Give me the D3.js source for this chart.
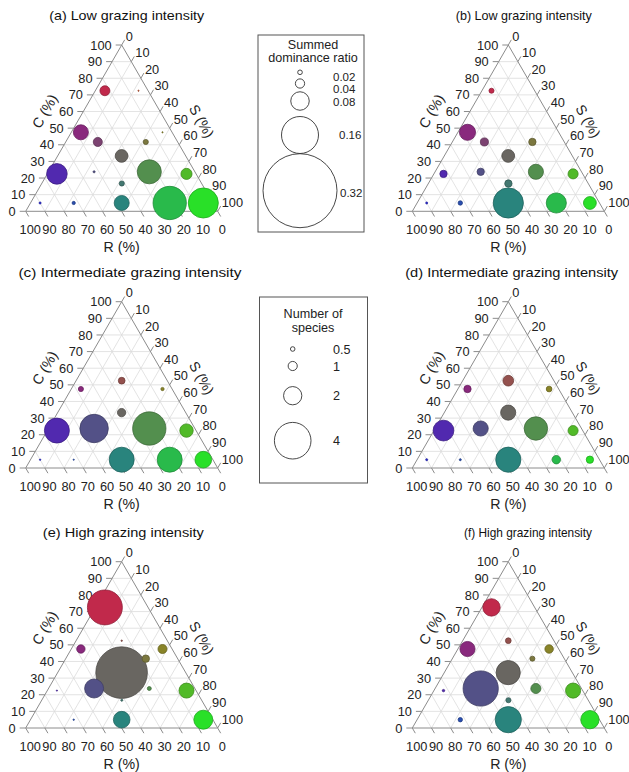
<!DOCTYPE html>
<html><head><meta charset="utf-8">
<script src="https://cdn.jsdelivr.net/npm/d3@7"></script>
<style>
body{margin:0;background:#fff;}
svg{display:block;font-family:"Liberation Sans",Arial,sans-serif;}
</style></head>
<body><svg id="chart" width="629" height="772"></svg>
<script>
// ---- CSR class positions (C, S, R in %) ----
const posNames = ["C","C/CR","C/CS","C/CSR","CR","CS","CR/CSR","CS/CSR","CSR","R/CR","R/CSR","S/CSR","S/CS","SR/CSR","R","R/SR","SR","S/SR","S"];
const posC = [90, 72.5, 72.5, 52.5, 47.5, 47.5, 41.7, 41.7, 33.3, 22.5, 23.75, 23.75, 22.5, 16.7, 5, 5, 5, 5, 5];
const posS = [5, 5, 22.5, 23.75, 5, 47.5, 16.7, 41.7, 33.3, 5, 23.75, 52.5, 72.5, 41.7, 5, 22.5, 47.5, 72.5, 90];
const posR = [5, 22.5, 5, 23.75, 47.5, 5, 41.7, 16.7, 33.3, 72.5, 52.5, 23.75, 5, 41.7, 90, 72.5, 47.5, 22.5, 5];

// ---- values per panel (left column: summed dominance ratio; right column: number of species) ----
const valuesA = [0, 0.043, 0.004, 0, 0.065, 0.005, 0.039, 0.022, 0.055, 0.089, 0.009, 0.104, 0.048, 0.022, 0.009, 0.014, 0.065, 0.144, 0.13];
const valuesB = [0, 0.55, 0, 0, 1.76, 0, 0.88, 0.8, 1.4, 0.8, 0.8, 1.65, 1.1, 0.8, 0.22, 0.48, 3.3, 2.2, 1.4];
const valuesC = [0, 0, 0, 0.029, 0.022, 0.014, 0, 0, 0.036, 0.108, 0.123, 0.144, 0.058, 0, 0.006, 0.004, 0.108, 0.108, 0.072];
const valuesD = [0, 0, 0, 1.17, 0.8, 0.62, 0, 0, 1.65, 2.27, 1.65, 2.56, 1.1, 0, 0.22, 0.22, 2.75, 0.92, 0.8];
const valuesE = [0, 0.151, 0, 0.006, 0.036, 0.039, 0, 0.032, 0.223, 0.004, 0.082, 0.017, 0.065, 0.009, 0, 0.006, 0.072, 0, 0.082];
const valuesF = [0, 1.9, 0, 0.62, 1.65, 0.92, 0, 0.55, 2.64, 0.26, 3.85, 1.1, 1.65, 0.55, 0, 0.48, 2.86, 0, 2.0];

const panelTitles = ["(a) Low grazing intensity","(b) Low grazing intensity","(c) Intermediate grazing intensity","(d) Intermediate grazing intensity","(e) High grazing intensity","(f) High grazing intensity"];
const ticks = [0,10,20,30,40,50,60,70,80,90,100];
const legend1Values = [0.02, 0.04, 0.08, 0.16, 0.32];
const legend2Values = [0.5, 1, 2, 4];

// ---- layout ----
const svg = d3.select("#chart");
const W = 192, H = 166.3;
const rDom = d3.scaleLinear().domain([0, 0.32]).range([0, 37]);
const rSpp = d3.scaleLinear().domain([0, 4]).range([0, 18.3]);
const panels = [
  {apexX:121.7, apexY:45,    vals:valuesA, r:rDom, title:panelTitles[0], tx:126.7, tw:155},
  {apexX:508.3, apexY:45,    vals:valuesB, r:rSpp, title:panelTitles[1], tx:523.8, tw:136},
  {apexX:121.7, apexY:301.7, vals:valuesC, r:rDom, title:panelTitles[2], tx:130,   tw:223},
  {apexX:508.3, apexY:301.7, vals:valuesD, r:rSpp, title:panelTitles[3], tx:511.7, tw:213},
  {apexX:121.7, apexY:561.7, vals:valuesE, r:rDom, title:panelTitles[4], tx:123.3, tw:161},
  {apexX:508.3, apexY:561.7, vals:valuesF, r:rSpp, title:panelTitles[5], tx:528,   tw:128}
];

function colorOf(i){
  const c = posC[i]/100, s = posS[i]/100, r = posR[i]/100;
  return d3.rgb(30 + 225*c, 30 + 215*s, 30 + 200*r);
}

panels.forEach(p => {
  const g = svg.append("g");
  const x0 = p.apexX - W/2, yb = p.apexY + H;
  const xs = d3.scaleLinear().domain([0,100]).range([x0, x0 + W]);   // along S + C/2
  const ys = d3.scaleLinear().domain([0,100]).range([yb, p.apexY]);  // C
  const P = (c, s) => [xs(s + c/2), ys(c)];

  // grid
  const grid = g.append("g").attr("stroke","#dcdcdc").attr("stroke-width",0.8).attr("fill","none");
  ticks.slice(1,10).forEach(v => {
    let a = P(v, 0), b = P(v, 100 - v);
    grid.append("line").attr("x1",a[0]).attr("y1",a[1]).attr("x2",b[0]).attr("y2",b[1]);
    a = P(0, v); b = P(100 - v, v);
    grid.append("line").attr("x1",a[0]).attr("y1",a[1]).attr("x2",b[0]).attr("y2",b[1]);
    a = P(0, 100 - v); b = P(100 - v, 0);
    grid.append("line").attr("x1",a[0]).attr("y1",a[1]).attr("x2",b[0]).attr("y2",b[1]);
  });
  // border
  const tri = [P(100,0), P(0,0), P(0,100)];
  g.append("path").attr("d", d3.line()(tri) + "Z").attr("fill","none").attr("stroke","#8c8c8c").attr("stroke-width",1);

  // ticks & labels
  const tk = g.append("g").attr("stroke","#8c8c8c").attr("stroke-width",1);
  const lab = g.append("g").attr("font-size",12.8).attr("fill","#222");
  ticks.forEach(v => {
    let a = P(v, 0);
    tk.append("line").attr("x1",a[0]).attr("y1",a[1]).attr("x2",a[0]-6).attr("y2",a[1]);
    lab.append("text").attr("x",a[0]-10).attr("y",a[1]).attr("dy","0.36em").attr("text-anchor","end").text(v);
    a = P(100 - v, v);
    tk.append("line").attr("x1",a[0]).attr("y1",a[1]).attr("x2",a[0]+3).attr("y2",a[1]-5.2);
    lab.append("text").attr("x",a[0]+4).attr("y",a[1]-9).attr("dy","0.36em").attr("text-anchor","start").text(v);
    a = P(0, 100 - v);
    tk.append("line").attr("x1",a[0]).attr("y1",a[1]).attr("x2",a[0]+3).attr("y2",a[1]+5.2);
    lab.append("text").attr("x",a[0]+4.5).attr("y",a[1]+18.5).attr("dy","0.36em").attr("text-anchor","middle").text(v);
  });

  // axis titles
  const lm = P(50, 0);
  g.append("text").attr("transform",`translate(${lm[0]-29},${lm[1]-17}) rotate(-60)`)
    .attr("text-anchor","middle").attr("dy","0.36em").attr("font-size",14.2).attr("fill","#222").text("C (%)");
  const rm = P(50, 50);
  g.append("text").attr("transform",`translate(${rm[0]+32},${rm[1]-7}) rotate(60)`)
    .attr("text-anchor","middle").attr("dy","0.36em").attr("font-size",14.2).attr("fill","#222").text("S (%)");
  g.append("text").attr("x",p.apexX).attr("y",yb+35.5).attr("dy","0.36em").attr("text-anchor","middle")
    .attr("font-size",14.2).attr("fill","#222").text("R (%)");

  // title
  g.append("text").attr("x",p.tx - p.tw/2).attr("y",p.apexY - 30).attr("dy","0.36em").attr("text-anchor","start")
    .attr("font-size",13.6).attr("textLength",p.tw).attr("lengthAdjust","spacingAndGlyphs")
    .attr("fill","#111").text(p.title);

  // bubbles
  const data = posNames.map((n,i) => ({i, v:p.vals[i]})).filter(d => d.v > 0).sort((a,b) => b.v - a.v);
  g.append("g").selectAll("circle").data(data).join("circle")
    .attr("cx", d => P(posC[d.i], posS[d.i])[0])
    .attr("cy", d => P(posC[d.i], posS[d.i])[1])
    .attr("r", d => Math.max(0.6, p.r(d.v)))
    .attr("fill", d => colorOf(d.i))
    .attr("stroke", d => colorOf(d.i).darker(0.8))
    .attr("stroke-width", 0.8);
});

// ---- legend 1 ----
const L1 = svg.append("g");
L1.append("rect").attr("x",258).attr("y",35).attr("width",106).attr("height",197).attr("fill","#fff").attr("stroke","#555").attr("stroke-width",1);
L1.append("text").attr("x",313).attr("y",44).attr("dy","0.36em").attr("text-anchor","middle").attr("font-size",12.6).attr("fill","#222").text("Summed");
L1.append("text").attr("x",313).attr("y",57).attr("dy","0.36em").attr("text-anchor","middle").attr("font-size",12.6).attr("fill","#222").text("dominance ratio");
const l1cy = [72.3, 83.5, 101, 135, 190.7];
const l1lx = [333, 333, 333, 339, 340];
const l1ly = [76.5, 88.5, 102, 135, 193];
legend1Values.forEach((v,k) => {
  L1.append("circle").attr("cx",300).attr("cy",l1cy[k]).attr("r",rDom(v)).attr("fill","none").attr("stroke","#333").attr("stroke-width",0.9);
  L1.append("text").attr("x",l1lx[k]).attr("y",l1ly[k]).attr("dy","0.36em").attr("font-size",11.5).attr("fill","#222").text(v.toFixed(2));
});

// ---- legend 2 ----
const L2 = svg.append("g");
L2.append("rect").attr("x",259.5).attr("y",297).attr("width",108).attr("height",186).attr("fill","#fff").attr("stroke","#555").attr("stroke-width",1);
L2.append("text").attr("x",313).attr("y",313).attr("dy","0.36em").attr("text-anchor","middle").attr("font-size",12.6).attr("fill","#222").text("Number of");
L2.append("text").attr("x",313).attr("y",327).attr("dy","0.36em").attr("text-anchor","middle").attr("font-size",12.6).attr("fill","#222").text("species");
const l2cy = [349, 366, 395.7, 440.7];
legend2Values.forEach((v,k) => {
  L2.append("circle").attr("cx",292.7).attr("cy",l2cy[k]).attr("r",rSpp(v)).attr("fill","none").attr("stroke","#333").attr("stroke-width",0.9);
  L2.append("text").attr("x",333).attr("y",l2cy[k]).attr("dy","0.36em").attr("font-size",12.6).attr("fill","#222").text(String(v));
});
</script>
</body></html>
